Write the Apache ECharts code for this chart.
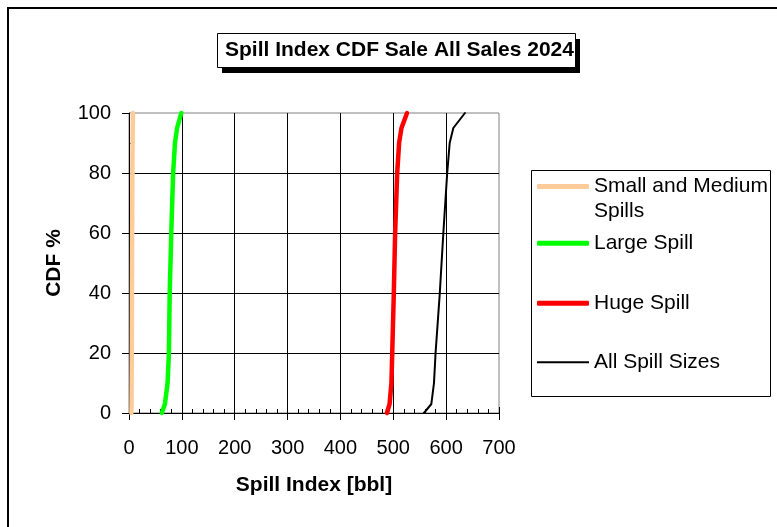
<!DOCTYPE html>
<html>
<head>
<meta charset="utf-8">
<script src="https://cdn.jsdelivr.net/npm/echarts@6/dist/echarts.min.js"></script>
<style>
html,body{margin:0;padding:0;background:#fff;}
#c{width:777px;height:527px;}
</style>
</head>
<body>
<div id="c"></div>
<script>
// ---- data ----
const titleText = 'Spill Index CDF Sale All Sales 2024';
const xAxisName = 'Spill Index [bbl]';
const yAxisName = 'CDF %';
const seriesNames = ['Small and Medium Spills', 'Large Spill', 'Huge Spill', 'All Spill Sizes'];
const cdfLevels = [0, 3, 10, 20, 40, 60, 80, 90, 95, 100];
const smallMediumX = [4.5, 4.8, 5, 5.3, 5.6, 6, 6.4, 6.8, 7.1, 7.5];
const largeX = [62, 68, 73, 75.5, 77, 80, 83.5, 87, 91, 99];
const hugeX = [488, 493, 496.5, 498, 501, 503.5, 507.4, 511, 515.5, 526];
const allX = [558, 572, 577, 580, 588, 594.7, 602, 606.7, 613.6, 635.6];
const xMin = 0, xMax = 700, xStep = 100;
const yMin = 0, yMax = 100, yStep = 20;

// ---- styling ----
const FONT = 'Liberation Sans, Arial, sans-serif';
const colors = ['#FFCC99', '#00FF00', '#FF0000', '#000000'];
const widths = [4.5, 4.5, 4.5, 2];
const xValues = [smallMediumX, largeX, hugeX, allX];

function pairs(xs) { return xs.map((x, i) => [x, cdfLevels[i]]); }

const series = seriesNames.map((name, i) => ({
  name: name,
  type: 'line',
  xAxisIndex: 0,
  yAxisIndex: 0,
  data: pairs(xValues[i]),
  symbol: 'none',
  clip: false,
  smooth: false,
  color: colors[i],
  lineStyle: { color: colors[i], width: widths[i], cap: 'round', join: 'round' },
  emphasis: { disabled: true },
  animation: false
}));

const legendTops = [149, 230.8, 290.8, 349.8];
const legends = seriesNames.map((name, i) => ({
  data: [name],
  orient: 'vertical',
  left: 537,
  top: legendTops[i],
  padding: 0,
  itemWidth: 52,
  itemHeight: i === 3 ? 2 : 5,
  icon: 'roundRect',
  selectedMode: false,
  itemStyle: { color: colors[i], borderWidth: 0 },
  formatter: i === 0 ? '\nSmall and Medium\nSpills' : '{name}',
  textStyle: { fontFamily: FONT, fontSize: 21, color: '#000', lineHeight: 25 }
}));

const chart = echarts.init(document.getElementById('c'), null, { renderer: 'canvas' });
chart.setOption({
  animation: false,
  backgroundColor: '#fff',
  title: {
    text: titleText,
    left: 217,
    top: 33,
    padding: [5, 2, 5, 8],
    textStyle: { fontFamily: FONT, fontSize: 21, fontWeight: 'bold', color: '#000', lineHeight: 24 }
  },
  legend: legends,
  graphic: [
    { type: 'rect', shape: { x: 8, y: 8, width: 800, height: 560 }, style: { fill: null, stroke: '#000', lineWidth: 2 }, z: -10, silent: true },
    { type: 'rect', shape: { x: 531.5, y: 170.5, width: 239, height: 226 }, style: { fill: '#fff', stroke: '#000', lineWidth: 1 }, z: -5, silent: true },
    { type: 'rect', shape: { x: 222, y: 39, width: 358, height: 34 }, style: { fill: '#000' }, z: -4, silent: true },
    { type: 'rect', shape: { x: 217.5, y: 33.5, width: 358, height: 34 }, style: { fill: '#fff', stroke: '#000', lineWidth: 1 }, z: -3, silent: true }
  ],
  grid: {
    left: 129, top: 113, width: 370, height: 300,
    show: true, borderColor: '#808080', borderWidth: 1, backgroundColor: 'transparent'
  },
  xAxis: [
    {
      type: 'value', min: xMin, max: xMax, interval: xStep, position: 'bottom',
      name: xAxisName, nameLocation: 'middle', nameGap: 62,
      nameTextStyle: { fontFamily: FONT, fontSize: 21, fontWeight: 'bold', color: '#000' },
      axisLine: { show: true, onZero: false, lineStyle: { color: '#000', width: 1 } },
      axisTick: { show: true, inside: false, length: 7, lineStyle: { color: '#000' } },
      minorTick: { show: false },
      axisLabel: { show: true, margin: 25, fontFamily: FONT, fontSize: 20, color: '#000' },
      splitLine: { show: true, showMinLine: false, showMaxLine: false, lineStyle: { color: '#000', width: 1 } }
    },
    {
      type: 'value', min: xMin, max: xMax, interval: xStep, position: 'bottom',
      axisLine: { show: false, onZero: false },
      axisTick: { show: true, inside: true, length: 6, lineStyle: { color: '#000' } },
      minorTick: { show: true, splitNumber: 5, length: 4, lineStyle: { color: '#000' } },
      axisLabel: { show: false },
      splitLine: { show: false }
    }
  ],
  yAxis: [
    {
      type: 'value', min: yMin, max: yMax, interval: yStep, position: 'left',
      name: yAxisName, nameLocation: 'middle', nameGap: 64,
      nameTextStyle: { fontFamily: FONT, fontSize: 21, fontWeight: 'bold', color: '#000' },
      axisLine: { show: true, onZero: false, lineStyle: { color: '#000', width: 1 } },
      axisTick: { show: true, inside: false, length: 7, lineStyle: { color: '#000' } },
      minorTick: { show: false },
      axisLabel: { show: true, margin: 18, fontFamily: FONT, fontSize: 20, color: '#000' },
      splitLine: { show: true, showMinLine: false, showMaxLine: false, lineStyle: { color: '#000', width: 1 } }
    },
    {
      type: 'value', min: yMin, max: yMax, interval: yStep, position: 'left',
      axisLine: { show: false, onZero: false },
      axisTick: { show: false, inside: true },
      minorTick: { show: true, splitNumber: 2, length: 4, lineStyle: { color: '#000' } },
      axisLabel: { show: false },
      splitLine: { show: false }
    }
  ],
  series: series
});
</script>
</body>
</html>
